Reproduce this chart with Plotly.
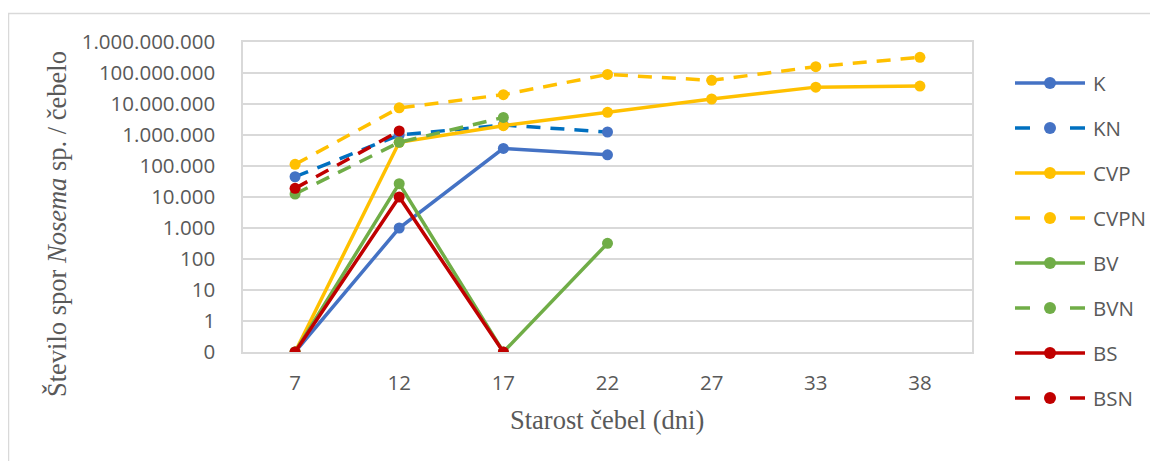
import plotly.graph_objects as go

# ---------------- data ----------------
ages = ["7", "12", "17", "22", "27", "33", "38"]
# zero values are shown at the bottom tick ("0") of the log axis -> 0.1
K    = [0.1, 1000, 370000, 230000, None, None, None]
KN   = [45000, 1000000, 2100000, 1250000, None, None, None]
CVP  = [0.1, 580000, 2000000, 5400000, 14500000, 35000000, 38000000]
CVPN = [113000, 7500000, 20000000, 90000000, 58000000, 160000000, 320000000]
BV   = [0.1, 27000, 0.1, 320, None, None, None]
BVN  = [12500, 580000, 3700000, None, None, None, None]
BS   = [0.1, 10000, 0.1, None, None, None, None]
BSN  = [19000, 1350000, None, None, None, None, None]

series_names = ["K", "KN", "CVP", "CVPN", "BV", "BVN", "BS", "BSN"]
series_values = [K, KN, CVP, CVPN, BV, BVN, BS, BSN]
line_colors = ["#4472C4", "#0070C0", "#FFC000", "#FFC000", "#70AD47", "#70AD47", "#C00000", "#C00000"]
marker_colors = ["#4472C4", "#4472C4", "#FFC000", "#FFC000", "#70AD47", "#70AD47", "#C00000", "#C00000"]
dashed = [False, True, False, True, False, True, False, True]

tick_vals = [0.1, 1, 10, 100, 1e3, 1e4, 1e5, 1e6, 1e7, 1e8, 1e9]
tick_text = ["0", "1", "10", "100", "1.000", "10.000", "100.000", "1.000.000",
             "10.000.000", "100.000.000", "1.000.000.000"]

# page body has an 8px margin -> figure sized to fit the window exactly
OFF = 8
W, H = 1158 - OFF, 461 - OFF
def px_x(p): return (p - OFF) / W
def px_y(p): return 1 - (p - OFF) / H

TEXT = "#595959"
GRID = "#D9D9D9"
TICKFONT = dict(family="Open Sans", size=20.5, color=TEXT)
SERIF = dict(family="Liberation Serif", size=26.5, color=TEXT)

fig = go.Figure()

for name, vals, lc, mc, d in zip(series_names, series_values, line_colors, marker_colors, dashed):
    fig.add_trace(go.Scatter(
        x=ages, y=vals, name=name, mode="lines+markers",
        line=dict(color=lc, width=3.5, dash="14px,10px" if d else "solid"),
        marker=dict(color=mc, size=11, line=dict(width=0)),
        connectgaps=False, showlegend=False, xaxis="x", yaxis="y",
    ))

# ---- manual legend (Excel-style long symbols) on an overlay axis ----
LEG_X0, LEG_X1 = 1015, 1085
LEG_Y0, LEG_STEP = 83, 45
for i, (name, lc, mc, d) in enumerate(zip(series_names, line_colors, marker_colors, dashed)):
    fig.add_trace(go.Scatter(
        x=[0, 70], y=[i, i], mode="lines",
        line=dict(color=lc, width=3.5, dash="15px,40px" if d else "solid"),
        showlegend=False, hoverinfo="skip", xaxis="x2", yaxis="y2",
    ))
    fig.add_trace(go.Scatter(
        x=[35], y=[i], mode="markers",
        marker=dict(color=mc, size=12, line=dict(width=0)),
        showlegend=False, hoverinfo="skip", xaxis="x2", yaxis="y2",
    ))
    fig.add_annotation(
        x=px_x(1091), y=px_y(LEG_Y0 + i * LEG_STEP), xref="paper", yref="paper",
        text=name, showarrow=False,
        xanchor="left", yanchor="middle", font=TICKFONT,
    )

fig.update_layout(
    width=W, height=H,
    margin=dict(l=0, r=0, t=0, b=0, pad=0, autoexpand=False),
    paper_bgcolor="white", plot_bgcolor="white",
    xaxis=dict(
        type="category", categoryorder="array", categoryarray=ages,
        range=[-0.5, 6.5], domain=[px_x(243), px_x(972)], automargin=False,
        showgrid=False, showline=True, linecolor=GRID, linewidth=1.5, mirror=True,
        ticks="", tickfont=TICKFONT, ticklabelstandoff=12, zeroline=False,
    ),
    yaxis=dict(
        type="log", range=[-1, 9], domain=[px_y(352), px_y(42)], automargin=False,
        tickvals=tick_vals, ticktext=tick_text, tickfont=TICKFONT,
        showgrid=True, gridcolor=GRID, gridwidth=1.5,
        showline=True, linecolor=GRID, linewidth=1.5, mirror=True,
        ticks="", ticklabelstandoff=22, zeroline=False,
    ),
    xaxis2=dict(domain=[px_x(LEG_X0), px_x(LEG_X1)], range=[0, 70], visible=False,
                anchor="y2", fixedrange=True, automargin=False),
    yaxis2=dict(domain=[px_y(LEG_Y0 + 7.5 * LEG_STEP), px_y(LEG_Y0 - 0.5 * LEG_STEP)],
                range=[7.5, -0.5], visible=False,
                anchor="x2", fixedrange=True, automargin=False),
    showlegend=False,
)

# axis titles
fig.add_annotation(
    x=px_x(607), y=px_y(420), xref="paper", yref="paper",
    text="Starost čebel (dni)", showarrow=False,
    xanchor="center", yanchor="middle", font=SERIF,
)
fig.add_annotation(
    x=px_x(57), y=px_y(224), xref="paper", yref="paper",
    text="Število spor <i>Nosema</i> sp. / čebelo", showarrow=False, textangle=-90,
    xanchor="center", yanchor="middle", font=SERIF,
)

# outer chart frame
fig.add_shape(type="rect", xref="paper", yref="paper",
              x0=px_x(8.5), x1=1.05, y0=-0.05, y1=px_y(13.5),
              line=dict(color=GRID, width=1.5), fillcolor="rgba(0,0,0,0)", layer="below")

fig.write_html("out.html")
